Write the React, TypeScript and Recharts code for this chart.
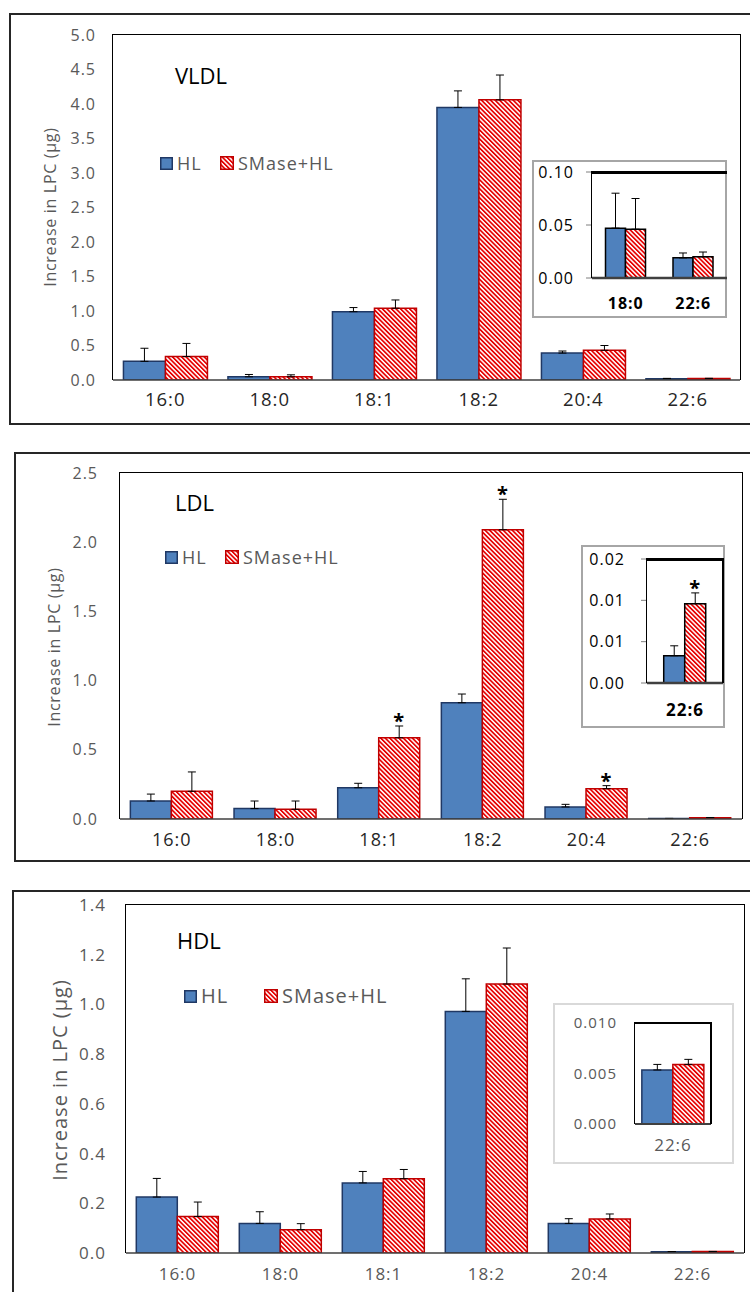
import { BarChart, Bar, XAxis, YAxis, ErrorBar, LabelList, Legend } from 'recharts'

const ACIDS = ['16:0', '18:0', '18:1', '18:2', '20:4', '22:6']

// VLDL (µg), mean and SD
const vldlHL = [0.27, 0.047, 0.99, 3.95, 0.39, 0.019]
const vldlHLsd = [0.19, 0.033, 0.06, 0.24, 0.03, 0.0046]
const vldlSM = [0.34, 0.046, 1.04, 4.06, 0.43, 0.02]
const vldlSMsd = [0.19, 0.029, 0.12, 0.36, 0.07, 0.0045]
const vldlTicks = [0, 0.5, 1, 1.5, 2, 2.5, 3, 3.5, 4, 4.5, 5]
const vldlInsetAcids = ['18:0', '22:6']
const vldlInsetTicks = [0, 0.05, 0.1]

// LDL
const ldlHL = [0.13, 0.075, 0.226, 0.84, 0.087, 0.0033]
const ldlHLsd = [0.05, 0.055, 0.032, 0.063, 0.019, 0.0012]
const ldlSM = [0.2, 0.07, 0.587, 2.09, 0.219, 0.0096]
const ldlSMsd = [0.14, 0.06, 0.085, 0.22, 0.022, 0.0013]
const ldlStars = [false, false, true, true, true, false]
const ldlTicks = [0, 0.5, 1, 1.5, 2, 2.5]
const ldlInsetAcids = ['22:6']
const ldlInsetStars = [true]
const ldlInsetTicks = [0, 0.005, 0.01, 0.015]
const ldlInsetTickLabels = ['0.00', '0.01', '0.01', '0.02']

// HDL
const hdlHL = [0.225, 0.119, 0.282, 0.972, 0.119, 0.00535]
const hdlHLsd = [0.075, 0.047, 0.046, 0.131, 0.019, 0.00055]
const hdlSM = [0.147, 0.094, 0.299, 1.082, 0.137, 0.0059]
const hdlSMsd = [0.058, 0.024, 0.037, 0.145, 0.02, 0.0005]
const hdlTicks = [0, 0.2, 0.4, 0.6, 0.8, 1, 1.2, 1.4]
const hdlInsetAcids = ['22:6']
const hdlInsetTicks = [0, 0.005, 0.01]

const BLUE = '#4f81bd'
const BLUE_EDGE = '#203864'
const RED = '#e60000'
const RED_EDGE = '#c00000'
const GREY = '#595959'
const Y_LABEL = 'Increase in LPC (µg)'

type Row = { name: string; hl: number; sm: number; hlErr: number[]; smErr: number[]; smSd: number; star: boolean }
type Box = { l: number; t: number; r: number; b: number }

function buildRows(names: string[], hl: number[], hlSd: number[], sm: number[], smSd: number[], stars?: boolean[]): Row[] {
  return names.map((name, k) => {
    const i = ACIDS.indexOf(name)
    return {
      name,
      hl: hl[i],
      sm: sm[i],
      hlErr: [0, hlSd[i]],
      smErr: [0, smSd[i]],
      smSd: smSd[i],
      star: stars ? stars[k] : false,
    }
  })
}

const starContent = (data: Row[]) => (props: any) => {
  const vb = props.viewBox || {}
  const x = props.x ?? vb.x
  const y = props.y ?? vb.y
  const width = props.width ?? vb.width
  const height = props.height ?? vb.height
  const row = data[props.index]
  if (!row || !row.star || !row.sm) return null
  const top = y - row.smSd * (height / row.sm)
  return (
    <text x={x + width / 2} y={top + 2} textAnchor="middle" fontSize={20} fontWeight="bold" fill="#000">
      *
    </text>
  )
}

function Swatch({ hatch, size }: { hatch?: boolean; size: number }) {
  return (
    <svg width={size} height={size} style={{ display: 'block' }}>
      <rect
        x={0.75}
        y={0.75}
        width={size - 1.5}
        height={size - 1.5}
        fill={hatch ? 'url(#hatch)' : BLUE}
        stroke={hatch ? RED_EDGE : BLUE_EDGE}
        strokeWidth={1.5}
      />
    </svg>
  )
}

const legendContent = (fontSize: number, second: number) => () => (
  <div style={{ position: 'relative', height: 24, fontSize, color: GREY, whiteSpace: 'nowrap', lineHeight: '24px' }}>
    <div style={{ position: 'absolute', left: 0, top: 0, display: 'flex', alignItems: 'center', height: 24 }}>
      <Swatch size={13} />
      <span style={{ marginLeft: 4 }}>HL</span>
    </div>
    <div style={{ position: 'absolute', left: second, top: 0, display: 'flex', alignItems: 'center', height: 24 }}>
      <Swatch size={14} hatch />
      <span style={{ marginLeft: 4 }}>SMase+HL</span>
    </div>
  </div>
)

type BarsProps = {
  data: Row[]
  domain: [number, number]
  ticks: number[]
  fmt: (v: number) => string
  chart: { l: number; t: number; w: number; h: number }
  plot: Box
  yWidth: number
  xHeight: number
  yTickMargin: number
  xTickMargin: number
  yTick: any
  xTick: any
  yTickLine?: boolean
  axisColor: string
  axisWidth: number
  gap: string
  hlEdge: string
  smEdge: string
  stars?: boolean
  legend?: { left: number; top: number; fontSize: number; second: number }
  spacing: number
}

function Bars(p: BarsProps) {
  const margin = {
    top: p.plot.t - p.chart.t,
    left: p.plot.l - p.chart.l - p.yWidth,
    right: p.chart.l + p.chart.w - p.plot.r,
    bottom: p.chart.t + p.chart.h - p.plot.b - p.xHeight,
  }
  return (
    <div style={{ position: 'absolute', left: p.chart.l, top: p.chart.t, letterSpacing: p.spacing }}>
      <BarChart width={p.chart.w} height={p.chart.h} data={p.data} margin={margin} barCategoryGap={p.gap} barGap={0}>
        <XAxis
          dataKey="name"
          interval={0}
          height={p.xHeight}
          tickLine={false}
          axisLine={{ stroke: p.axisColor, strokeWidth: p.axisWidth }}
          tickMargin={p.xTickMargin}
          tick={p.xTick}
        />
        <YAxis
          type="number"
          domain={p.domain}
          ticks={p.ticks}
          interval={0}
          allowDataOverflow
          width={p.yWidth}
          axisLine={false}
          tickLine={p.yTickLine ? { stroke: '#7f7f7f' } : false}
          tickMargin={p.yTickMargin}
          tickFormatter={p.fmt}
          tick={p.yTick}
        />
        <Bar dataKey="hl" name="HL" fill={BLUE} stroke={p.hlEdge} strokeWidth={1.5} isAnimationActive={false}>
          <ErrorBar dataKey="hlErr" direction="y" width={4} stroke="#000" strokeWidth={1} isAnimationActive={false} />
        </Bar>
        <Bar dataKey="sm" name="SMase+HL" fill="url(#hatch)" stroke={p.smEdge} strokeWidth={1.5} isAnimationActive={false}>
          <ErrorBar dataKey="smErr" direction="y" width={4} stroke="#000" strokeWidth={1} isAnimationActive={false} />
          {p.stars && <LabelList dataKey="sm" content={starContent(p.data)} />}
        </Bar>
        {p.legend && (
          <Legend
            layout="horizontal"
            verticalAlign="middle"
            align="center"
            content={legendContent(p.legend.fontSize, p.legend.second)}
            wrapperStyle={{ left: p.legend.left, top: p.legend.top, width: 320, height: 24 }}
          />
        )}
      </BarChart>
    </div>
  )
}

function Frame({ box, top = 1.5, left = 1.5, right = 1.5, color = '#000' }: { box: Box; top?: number; left?: number; right?: number; color?: string }) {
  return (
    <div
      style={{
        position: 'absolute',
        left: box.l - left / 2,
        top: box.t - top / 2,
        width: box.r - box.l + left / 2 + right / 2,
        height: box.b - box.t + top / 2,
        borderTop: `${top}px solid ${color}`,
        borderLeft: `${left}px solid ${color}`,
        borderRight: right ? `${right}px solid ${color}` : 'none',
        boxSizing: 'border-box',
        pointerEvents: 'none',
      }}
    />
  )
}

function Box({ l, t, r, b, color, w = 2, bg = '#fff' }: { l: number; t: number; r: number; b: number; color: string; w?: number; bg?: string }) {
  return (
    <div
      style={{ position: 'absolute', left: l, top: t, width: r - l, height: b - t, border: `${w}px solid ${color}`, boxSizing: 'border-box', background: bg }}
    />
  )
}

function YLabel({ x, y, size, spacing }: { x: number; y: number; size: number; spacing: number }) {
  return (
    <div
      style={{
        position: 'absolute',
        left: x,
        top: y,
        transform: 'translate(-50%, -50%) rotate(-90deg)',
        whiteSpace: 'nowrap',
        fontSize: size,
        letterSpacing: spacing,
        color: GREY,
        lineHeight: 1,
      }}
    >
      {Y_LABEL}
    </div>
  )
}

function Title({ x, y, text }: { x: number; y: number; text: string }) {
  return (
    <div style={{ position: 'absolute', left: x, top: y - 13, fontSize: 22, lineHeight: '26px', color: '#000' }}>{text}</div>
  )
}

const f1 = (v: number) => v.toFixed(1)
const f2 = (v: number) => v.toFixed(2)
const f3 = (v: number) => v.toFixed(3)
const ldlInsetFmt = (v: number) => ldlInsetTickLabels[ldlInsetTicks.indexOf(v)] ?? ''

export default function App() {
  const vldlMain = buildRows(ACIDS, vldlHL, vldlHLsd, vldlSM, vldlSMsd)
  const vldlInset = buildRows(vldlInsetAcids, vldlHL, vldlHLsd, vldlSM, vldlSMsd)
  const ldlMain = buildRows(ACIDS, ldlHL, ldlHLsd, ldlSM, ldlSMsd, ldlStars)
  const ldlInset = buildRows(ldlInsetAcids, ldlHL, ldlHLsd, ldlSM, ldlSMsd, ldlInsetStars)
  const hdlMain = buildRows(ACIDS, hdlHL, hdlHLsd, hdlSM, hdlSMsd)
  const hdlInset = buildRows(hdlInsetAcids, hdlHL, hdlHLsd, hdlSM, hdlSMsd)

  const p1: Box = { l: 113, t: 35, r: 740, b: 380 }
  const p1i: Box = { l: 592, t: 172, r: 727, b: 278 }
  const p2: Box = { l: 120, t: 473, r: 742, b: 819 }
  const p2i: Box = { l: 647, t: 559, r: 723, b: 683 }
  const p3: Box = { l: 126, t: 905, r: 744, b: 1253 }
  const p3i: Box = { l: 635, t: 1023, r: 711, b: 1124 }

  const greyTick = (size: number) => ({ fontSize: size, fill: GREY })
  const darkTick = (size: number) => ({ fontSize: size, fill: '#262626' })

  return (
    <div
      style={{
        position: 'absolute',
        left: 0,
        top: 0,
        width: 750,
        height: 1292,
        overflow: 'hidden',
        background: '#fff',
        fontFamily: '"Open Sans", sans-serif',
      }}
    >
      <svg width={0} height={0} style={{ position: 'absolute' }}>
        <defs>
          <pattern id="hatch" patternUnits="userSpaceOnUse" width={3.2} height={3.2} patternTransform="rotate(-45)">
            <rect width={3.2} height={3.2} fill="#fff" />
            <rect width={1.7} height={3.2} fill={RED} />
          </pattern>
        </defs>
      </svg>

      {/* VLDL */}
      <Box l={9} t={13} r={800} b={425} color="#262626" />
      <Bars
        data={vldlMain}
        domain={[0, 5]}
        ticks={vldlTicks}
        fmt={f1}
        chart={{ l: 0, t: 0, w: 750, h: 430 }}
        plot={p1}
        yWidth={60}
        xHeight={30}
        yTickMargin={11}
        xTickMargin={7}
        yTick={greyTick(16)}
        xTick={darkTick(18.5)}
        axisColor="#404040"
        axisWidth={1.5}
        gap="10%"
        hlEdge={BLUE_EDGE}
        smEdge={RED_EDGE}
        spacing={1}
        legend={{ left: 160, top: 151, fontSize: 18, second: 60 }}
      />
      <Frame box={p1} />
      <YLabel x={50} y={207} size={16} spacing={0.7} />
      <Title x={175} y={75} text="VLDL" />
      <Box l={532} t={160} r={727} b={318} color="#a6a6a6" />
      <Bars
        data={vldlInset}
        domain={[0, 0.1]}
        ticks={vldlInsetTicks}
        fmt={f2}
        chart={{ l: 532, t: 160, w: 195, h: 158 }}
        plot={p1i}
        yWidth={60}
        xHeight={40}
        yTickMargin={12}
        xTickMargin={14}
        yTick={{ fontSize: 16, fill: '#000' }}
        xTick={{ fontSize: 16, fill: '#000', fontWeight: 'bold' }}
        yTickLine
        axisColor="#404040"
        axisWidth={2.5}
        gap="20%"
        hlEdge="#000"
        smEdge="#000"
        spacing={1}
      />
      <Frame box={p1i} top={3} right={0} />

      {/* LDL */}
      <Box l={14} t={452} r={800} b={862} color="#262626" />
      <Bars
        data={ldlMain}
        domain={[0, 2.5]}
        ticks={ldlTicks}
        fmt={f1}
        chart={{ l: 0, t: 440, w: 750, h: 430 }}
        plot={p2}
        yWidth={60}
        xHeight={30}
        yTickMargin={16}
        xTickMargin={8}
        yTick={greyTick(16)}
        xTick={darkTick(18)}
        axisColor="#404040"
        axisWidth={1.5}
        gap="10%"
        hlEdge={BLUE_EDGE}
        smEdge={RED_EDGE}
        stars
        spacing={1}
        legend={{ left: 165, top: 105, fontSize: 18, second: 60 }}
      />
      <Frame box={p2} />
      <YLabel x={54} y={647} size={16} spacing={0.7} />
      <Title x={175} y={502} text="LDL" />
      <Box l={581} t={545} r={725} b={728} color="#a6a6a6" />
      <Bars
        data={ldlInset}
        domain={[0, 0.015]}
        ticks={ldlInsetTicks}
        fmt={ldlInsetFmt}
        chart={{ l: 581, t: 545, w: 144, h: 183 }}
        plot={p2i}
        yWidth={66}
        xHeight={45}
        yTickMargin={16}
        xTickMargin={15}
        yTick={{ fontSize: 16, fill: '#000' }}
        xTick={{ fontSize: 17, fill: '#000', fontWeight: 'bold' }}
        yTickLine
        axisColor="#404040"
        axisWidth={2.5}
        gap="22%"
        hlEdge="#000"
        smEdge="#000"
        stars
        spacing={1}
      />
      <Frame box={p2i} top={3} right={2} />

      {/* HDL */}
      <Box l={12} t={890} r={800} b={1400} color="#262626" />
      <Bars
        data={hdlMain}
        domain={[0, 1.4]}
        ticks={hdlTicks}
        fmt={f1}
        chart={{ l: 0, t: 880, w: 750, h: 412 }}
        plot={p3}
        yWidth={60}
        xHeight={30}
        yTickMargin={14}
        xTickMargin={9}
        yTick={greyTick(17)}
        xTick={greyTick(17)}
        axisColor="#404040"
        axisWidth={1.5}
        gap="10%"
        hlEdge={BLUE_EDGE}
        smEdge={RED_EDGE}
        spacing={1}
        legend={{ left: 184, top: 104, fontSize: 20, second: 80 }}
      />
      <Frame box={p3} />
      <YLabel x={60} y={1080} size={20} spacing={1} />
      <Title x={177} y={940} text="HDL" />
      <Box l={553} t={1003} r={734} b={1164} color="#d9d9d9" />
      <Bars
        data={hdlInset}
        domain={[0, 0.01]}
        ticks={hdlInsetTicks}
        fmt={f3}
        chart={{ l: 553, t: 1003, w: 181, h: 161 }}
        plot={p3i}
        yWidth={82}
        xHeight={40}
        yTickMargin={12}
        xTickMargin={9}
        yTick={greyTick(15)}
        xTick={greyTick(17)}
        axisColor="#404040"
        axisWidth={2}
        gap="9%"
        hlEdge={BLUE_EDGE}
        smEdge={RED_EDGE}
        spacing={1}
      />
      <Frame box={p3i} top={2} right={2} />
    </div>
  )
}
